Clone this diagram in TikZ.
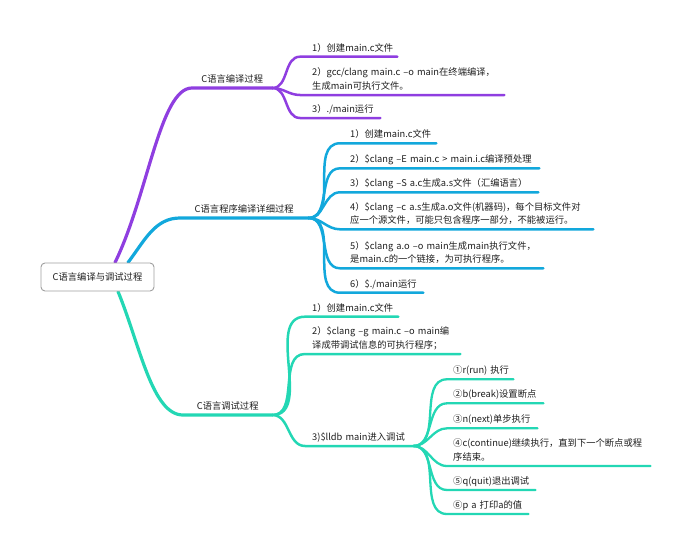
\documentclass[tikz,border=0pt]{standalone}
\usepackage{fontspec}
\setmainfont{Noto Sans CJK SC}
\usetikzlibrary{calc,backgrounds}
\definecolor{cpurple}{RGB}{143,62,224}
\definecolor{cblue}{RGB}{18,168,220}
\definecolor{cteal}{RGB}{35,215,180}
\definecolor{ctext}{RGB}{30,30,30}
\newcommand{\tpline}[2]{\hspace*{#1}\mbox{#2}}
\begin{document}
\begin{tikzpicture}[x=1pt,y=-1pt,
  font=\fontsize{9.3}{13.5}\selectfont, text=ctext,
  topic/.style={anchor=south west, inner xsep=0pt, inner ysep=3.5pt, text depth=2pt, align=left},
  twoline/.style={text depth=15.5pt},
  maintopic/.style={topic, align=center},
  rootbox/.style={draw=gray!75, rounded corners=4pt, line width=0.9pt, minimum width=113pt, minimum height=28pt, inner sep=0pt, fill=white},
  mainlink/.style={line width=3.2pt, line cap=round},
  sublink/.style={line width=2.5pt, line cap=round},
  leaflink/.style={line width=2.3pt, line cap=round}
]
\path[use as bounding box] (0,0) rectangle (690,554);

\node[rootbox] (root) at (97.5,277) {C语言编译与调试过程};

% main topics
\node[maintopic, text width=80pt] (P) at (192,88) {C语言编译过程};
\node[maintopic, text width=128pt] (B) at (180,218) {C语言程序编译详细过程};
\node[maintopic, text width=89pt] (T) at (183,415) {C语言调试过程};

% purple children
\node[topic, text width=97pt] (p1) at (300,56.7) {\tpline{12pt}{1）创建main.c文件}};
\node[topic, twoline, text width=204pt] (p2) at (300,95) {\tpline{12pt}{2）gcc/clang main.c –o main在终端编译，}\\\tpline{12pt}{生成main可执行文件。}};
\node[topic, text width=80pt] (p3) at (300,118) {\tpline{12pt}{3）./main运行}};

% blue children
\node[topic, text width=96pt] (b1) at (340,143.3) {\tpline{10pt}{1）创建main.c文件}};
\node[topic, text width=199pt] (b2) at (340,168.3) {\tpline{10pt}{2）\$clang –E main.c > main.i.c编译预处理}};
\node[topic, text width=198pt] (b3) at (340,192.3) {\tpline{10pt}{3）\$clang –S a.c生成a.s文件（汇编语言）}};
\node[topic, twoline, text width=253pt] (b4) at (340,229.3) {\tpline{10pt}{4）\$clang –c a.s生成a.o文件(机器码)，每个目标文件对}\\\tpline{10pt}{应一个源文件，可能只包含程序一部分，不能被运行。}};
\node[topic, twoline, text width=203pt] (b5) at (340,268.3) {\tpline{10pt}{5）\$clang a.o –o main生成main执行文件，}\\\tpline{10pt}{是main.c的一个链接，为可执行程序。}};
\node[topic, text width=83pt] (b6) at (340,292.7) {\tpline{10pt}{6）\$./main运行}};

% teal children
\node[topic, text width=93pt] (t1) at (305,316.7) {\tpline{7pt}{1）创建main.c文件}};
\node[topic, twoline, text width=155pt] (t2) at (305,354) {\tpline{7pt}{2）\$clang –g main.c –o main编}\\\tpline{7pt}{译成带调试信息的可执行程序；}};
\node[topic, text width=108pt] (t3) at (305,446) {\tpline{7pt}{3)\$lldb main进入调试}};

% grandchildren
\node[topic, text width=66pt] (g1) at (447,379.3) {\tpline{6pt}{①r(run) 执行}};
\node[topic, text width=96pt] (g2) at (447,403.3) {\tpline{6pt}{②b(break)设置断点}};
\node[topic, text width=90pt] (g3) at (447,428.3) {\tpline{6pt}{③n(next)单步执行}};
\node[topic, twoline, text width=203pt] (g4) at (447,466) {\tpline{6pt}{④c(continue)继续执行，直到下一个断点或程}\\\tpline{6pt}{序结束。}};
\node[topic, text width=88pt] (g5) at (447,490) {\tpline{6pt}{⑤q(quit)退出调试}};
\node[topic, text width=81pt] (g6) at (447,514) {\tpline{6pt}{⑥p a 打印a的值}};

\begin{scope}[on background layer]
% root to main
\draw[cpurple, mainlink] ([xshift=17.5pt]root.north) .. controls (148,195) and (160,88) .. (P.south west) -- (P.south east);
\draw[cblue, mainlink] ([xshift=30.5pt]root.north) .. controls (145,240) and (155,218) .. (B.south west) -- (B.south east);
\draw[cteal, mainlink] ([xshift=20.5pt]root.south) .. controls (140,345) and (152,415) .. (T.south west) -- (T.south east);

% purple
\foreach \c in {p1,p2,p3}
  \draw[cpurple, sublink] (P.south east) to[out=0,in=180] (\c.south west) -- (\c.south east);
% blue
\foreach \c in {b1,b2,b3,b4,b5,b6}
  \draw[cblue, sublink] (B.south east) to[out=0,in=180] (\c.south west) -- (\c.south east);
% teal
\foreach \c in {t1,t2,t3}
  \draw[cteal, sublink] (T.south east) to[out=0,in=180] (\c.south west) -- (\c.south east);
\foreach \c in {g1,g2,g3,g4,g5,g6}
  \draw[cteal, leaflink] (t3.south east) to[out=0,in=180] (\c.south west) -- (\c.south east);
\end{scope}
\end{tikzpicture}
\end{document}
